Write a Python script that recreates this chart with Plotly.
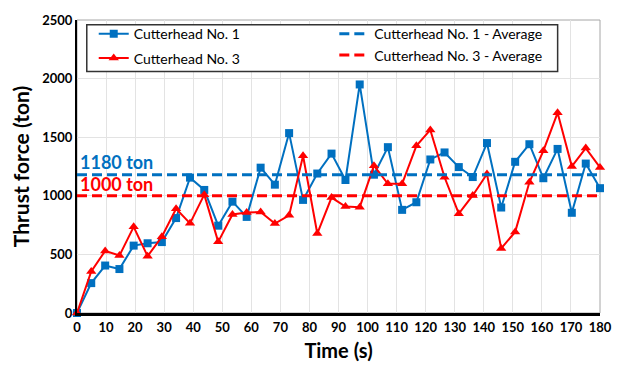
import plotly.graph_objects as go

time_s = [0, 4.9, 9.7, 14.6, 19.5, 24.3, 29.2, 34.1, 38.9, 43.8, 48.6, 53.5, 58.4,
          63.2, 68.1, 73.0, 77.8, 82.7, 87.6, 92.4, 97.3, 102.2, 107.0, 111.9,
          116.8, 121.6, 126.5, 131.4, 136.2, 141.1, 146.0, 150.8, 155.7, 160.5,
          165.4, 170.3, 175.1, 180.0]

cutterhead_1 = [0, 255, 405, 375, 575, 595, 605, 810, 1155, 1050, 745, 950, 820,
                1240, 1095, 1535, 965, 1190, 1360, 1135, 1950, 1180, 1415, 880,
                945, 1310, 1370, 1245, 1160, 1450, 900, 1290, 1440, 1150, 1400,
                855, 1275, 1065]

cutterhead_3 = [0, 355, 530, 490, 735, 485, 650, 890, 765, 1010, 607, 841, 858,
                861, 763, 833, 1342, 678, 985, 909, 903, 1257, 1102, 1102, 1426,
                1562, 1158, 847, 1003, 1186, 551, 692, 1115, 1384, 1708, 1251,
                1407, 1242]

avg_1 = 1180
avg_3 = 1000
avg_x = [0, 180]

x_ticks = list(range(0, 181, 10))
y_ticks = [0, 500, 1000, 1500, 2000, 2500]

BLUE = "#0070C0"
RED = "#FF0000"
FONT = "Lato"

fig = go.Figure()
fig.add_trace(go.Scatter(
    x=time_s, y=cutterhead_1, mode="lines+markers", name="Cutterhead No. 1",
    line=dict(color=BLUE, width=2), marker=dict(symbol="square", size=8, color=BLUE),
    cliponaxis=False, legend="legend", legendgroup="a"))
fig.add_trace(go.Scatter(
    x=time_s, y=cutterhead_3, mode="lines+markers", name="Cutterhead No. 3",
    line=dict(color=RED, width=2), marker=dict(symbol="triangle-up", size=9, color=RED),
    cliponaxis=False, legend="legend", legendgroup="b"))
fig.add_trace(go.Scatter(
    x=avg_x, y=[avg_1, avg_1], mode="lines", name="Cutterhead No. 1 - Average",
    line=dict(color=BLUE, width=3, dash="10px,5px"), legend="legend2"))
fig.add_trace(go.Scatter(
    x=avg_x, y=[avg_3, avg_3], mode="lines", name="Cutterhead No. 3 - Average",
    line=dict(color=RED, width=3, dash="10px,5px"), legend="legend2"))

fig.add_annotation(x=0, y=avg_1, xref="x", yref="y", text="<b>1180 ton</b>",
                   showarrow=False, xanchor="left", yanchor="bottom", xshift=1, yshift=0,
                   font=dict(family=FONT, size=18, color=BLUE))
fig.add_annotation(x=0, y=avg_3, xref="x", yref="y", text="<b>1000 ton</b>",
                   showarrow=False, xanchor="left", yanchor="bottom", xshift=1, yshift=-1,
                   font=dict(family=FONT, size=18, color=RED))

# plot-area frame (grey, top/right)
fig.add_shape(type="rect", xref="paper", yref="paper", x0=0, y0=0, x1=1, y1=1,
              line=dict(color="#A6A6A6", width=1), layer="below")
# legend box enclosing both legend columns
fig.add_shape(type="rect", xref="paper", yref="paper", x0=0.0187, y0=0.824, x1=0.919, y1=0.984,
              line=dict(color="#333333", width=1.5), fillcolor="white", layer="above")

legend_common = dict(bgcolor="rgba(0,0,0,0)", borderwidth=0, yanchor="top", xanchor="left",
                     font=dict(family=FONT, size=14, color="black"), itemwidth=30)

fig.update_layout(
    width=624, height=383,
    margin=dict(l=77, r=13, t=18, b=70),
    paper_bgcolor="white", plot_bgcolor="white",
    font=dict(family=FONT, color="black"),
    showlegend=True,
    legend=dict(x=0.032, y=1.006, tracegroupgap=3, **legend_common),
    legend2=dict(x=0.492, y=1.006, tracegroupgap=0, **legend_common),
    xaxis=dict(range=[0, 180], tickvals=x_ticks, ticktext=[f"<b>{v}</b>" for v in x_ticks],
               showgrid=True, gridcolor="#E3E3E3", gridwidth=1,
               showline=True, linecolor="black", linewidth=3, zeroline=False,
               ticks="", tickfont=dict(family=FONT, size=13, color="black"),
               title=dict(text="<b>Time (s)</b>", font=dict(family=FONT, size=20), standoff=11)),
    yaxis=dict(range=[0, 2500], tickvals=y_ticks, ticktext=[f"<b>{v}</b>" for v in y_ticks],
               showgrid=True, gridcolor="#E3E3E3", gridwidth=1,
               showline=True, linecolor="black", linewidth=2, zeroline=False,
               ticks="", tickfont=dict(family=FONT, size=13, color="black"),
               title=dict(text="<b>Thrust force (ton)</b>", font=dict(family=FONT, size=21), standoff=7)),
)

fig.write_html("out.html")
